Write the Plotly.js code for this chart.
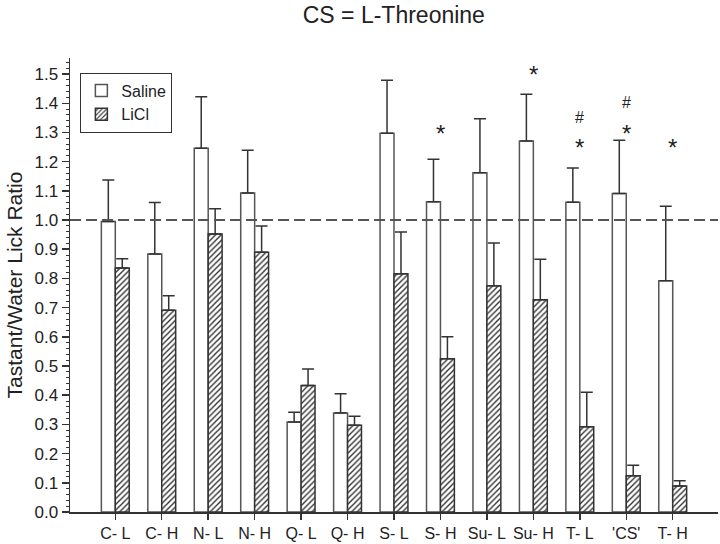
<!DOCTYPE html>
<html>
<head>
<meta charset="utf-8">
<script src="https://cdn.plot.ly/plotly-3.0.1.min.js"></script>
<style>html,body{margin:0;padding:0;background:#fff;}#chart{width:720px;height:544px;}</style>
</head>
<body>
<div id="chart"></div>
<script>
var categories = ["C- L","C- H","N- L","N- H","Q- L","Q- H","S- L","S- H","Su- L","Su- H","T- L","'CS'","T- H"];
var salineMean = [0.995, 0.884, 1.246, 1.093, 0.308, 0.339, 1.297, 1.063, 1.162, 1.271, 1.061, 1.091, 0.792];
var salineSE   = [0.142, 0.176, 0.176, 0.146, 0.034, 0.066, 0.182, 0.145, 0.185, 0.160, 0.117, 0.182, 0.255];
var liclMean   = [0.836, 0.691, 0.952, 0.890, 0.433, 0.297, 0.816, 0.525, 0.775, 0.727, 0.292, 0.124, 0.089];
var liclSE     = [0.031, 0.050, 0.087, 0.090, 0.057, 0.031, 0.143, 0.075, 0.146, 0.139, 0.118, 0.036, 0.018];
var zeros = categories.map(function(){return 0;});

var sigCats = ["S- H","Su- H","T- L","T- L","'CS'","'CS'","T- H"];
var sigText = ["*","*","*","#","*","#","*"];
var sigY    = [1.318, 1.519, 1.268, 1.352, 1.318, 1.404, 1.268];
var refLine = 1.0;

var FONT = "Liberation Sans, Arial, sans-serif";
var dark = "#333";

var traces = [
  {
    type: "bar", name: "Saline", x: categories, y: salineMean,
    marker: {color: "#ffffff", line: {color: "#555", width: 1.5}},
    error_y: {type: "data", symmetric: false, array: salineSE, arrayminus: zeros, color: dark, thickness: 1.5, width: 6}
  },
  {
    type: "bar", name: "LiCl", x: categories, y: liclMean,
    marker: {color: "#ffffff", line: {color: "#333", width: 1.5},
      pattern: {shape: "/", fgcolor: "#333", bgcolor: "#ffffff", size: 4, solidity: 0.35}},
    error_y: {type: "data", symmetric: false, array: liclSE, arrayminus: zeros, color: dark, thickness: 1.5, width: 6}
  }
];

var annotations = sigCats.map(function(c, i){
  var isStar = sigText[i] === "*";
  return {
    x: c, y: sigY[i], xref: "x", yref: "y", text: sigText[i], showarrow: false,
    yanchor: "middle", yshift: isStar ? -6 : 0,
    font: {family: FONT, size: isStar ? 24 : 16, color: "#222"}
  };
});

var layout = {
  width: 720, height: 544,
  margin: {l: 70, r: 2, t: 58, b: 32},
  paper_bgcolor: "#fff", plot_bgcolor: "#fff",
  font: {family: FONT, color: "#222"},
  title: {text: "CS = L-Threonine", font: {family: FONT, size: 23, color: "#222"},
    x: 0.547, xref: "container", xanchor: "center", y: 0.972, yref: "container", yanchor: "middle"},
  barmode: "group", bargap: 0.4, bargroupgap: 0,
  showlegend: true,
  legend: {x: 0.016, y: 0.968, xanchor: "left", yanchor: "top", bgcolor: "#fff",
    bordercolor: dark, borderwidth: 1, font: {family: FONT, size: 16, color: "#222"},
    tracegroupgap: 0},
  xaxis: {
    type: "category", range: [-0.975, 12.975], showgrid: false, zeroline: false,
    showline: true, linecolor: dark, linewidth: 1.5,
    ticks: "outside", ticklen: 6, tickwidth: 1.5, tickcolor: dark, ticklabelstandoff: 0,
    tickfont: {family: FONT, size: 16, color: "#222"}, fixedrange: true
  },
  yaxis: {
    range: [0, 1.555], dtick: 0.1, tick0: 0, tickformat: ".1f",
    showgrid: false, zeroline: false,
    showline: true, linecolor: dark, linewidth: 1.5,
    ticks: "outside", ticklen: 7, tickwidth: 1.5, tickcolor: dark,
    minor: {dtick: 0.02, ticks: "outside", ticklen: 3, tickwidth: 1, tickcolor: dark},
    tickfont: {family: FONT, size: 17, color: "#222"},
    title: {text: "Tastant/Water Lick Ratio", font: {family: FONT, size: 21, color: "#222"}, standoff: 6}
  },
  shapes: [{
    type: "line", xref: "paper", x0: 0, x1: 1, yref: "y", y0: refLine, y1: refLine,
    line: {color: "#555", width: 2, dash: "11px,5px"}, layer: "above"
  }],
  annotations: annotations
};

Plotly.newPlot("chart", traces, layout, {displayModeBar: false, staticPlot: true});
</script>
</body>
</html>
